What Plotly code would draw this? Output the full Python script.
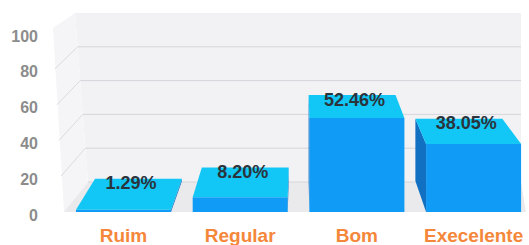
import plotly.graph_objects as go

categories = ["Ruim", "Regular", "Bom", "Execelente"]
values = [1.29, 8.20, 52.46, 38.05]
labels = ["1.29%", "8.20%", "52.46%", "38.05%"]
y_ticks = [0, 20, 40, 60, 80, 100]

# ---- layout geometry (pixels of the 529x245 canvas) ----
W, H = 529, 245
ML, MR, MT, MB = 42, 0, 3, 23
X0_PX, X_STEP = 123.5, 116.7      # pixel of category 0, pixels per category
Y0_PX, Y_SCALE = 212.0, 1.79      # pixel of value 0, pixels per unit

x_min = (ML - X0_PX) / X_STEP
x_max = (W - MR - X0_PX) / X_STEP
y_max = (Y0_PX - MT) / Y_SCALE
y_min = (Y0_PX - (H - MB)) / Y_SCALE


def px2x(px):
    return (px - X0_PX) / X_STEP


def py2y(py):
    return (Y0_PX - py) / Y_SCALE


# perspective (vanishing point) for bar depth
S = 0.085
VX = px2x(300)
VY = py2y(-153)


def back(x, y):
    return VX + (x - VX) * (1 - S), VY + (y - VY) * (1 - S)


BAR_W = 0.814
FRONT = "#0f9bf6"
TOP = "#12c7f5"
SIDE = "#1170c2"

fig = go.Figure()

# walls and floor as background shapes
def path(pts):
    return "M " + " L ".join(f"{px2x(a)},{py2y(b)}" for a, b in pts) + " Z"

shapes = []
back_wall = [(75, 13), (521, 13), (521, 182), (88, 182)]
left_wall = [(53, 28), (75, 13), (88, 182), (64, 212)]
floor = [(64, 212), (88, 182), (521, 182), (526, 212)]
shapes.append(dict(type="path", path=path(back_wall), xref="x", yref="y",
                   fillcolor="#f2f2f5", line=dict(width=0), layer="below"))
shapes.append(dict(type="path", path=path(left_wall), xref="x", yref="y",
                   fillcolor="#f5f5f8", line=dict(width=0), layer="below"))
shapes.append(dict(type="path", path=path(floor), xref="x", yref="y",
                   fillcolor="#eaeaec", line=dict(width=0), layer="below"))

# grid lines on back wall and left wall
for v in y_ticks[:-1]:
    yb = py2y(182 - 1.69 * v)
    shapes.append(dict(type="line", xref="x", yref="y",
                       x0=px2x(88 - 0.13 * v), x1=px2x(521), y0=yb, y1=yb,
                       line=dict(color="#d6d6da", width=1), layer="below"))
    if v > 0:
        shapes.append(dict(type="line", xref="x", yref="y",
                           x0=px2x(63 - 0.1 * v), y0=v,
                           x1=px2x(88 - 0.13 * v), y1=yb,
                           line=dict(color="#dcdce0", width=1), layer="below"))

# side faces and top faces
for i, v in enumerate(values):
    xl, xr = i - BAR_W / 2, i + BAR_W / 2
    if xl > VX:
        b1, b2 = back(xl, v), back(xl, 0)
        fig.add_trace(go.Scatter(x=[xl, xl, b1[0], b2[0], xl], y=[0, v, b1[1], b2[1], 0],
                                 fill="toself", fillcolor=SIDE, mode="lines",
                                 line=dict(width=0), hoverinfo="skip", showlegend=False))
    elif xr < VX:
        b1, b2 = back(xr, v), back(xr, 0)
        fig.add_trace(go.Scatter(x=[xr, xr, b1[0], b2[0], xr], y=[0, v, b1[1], b2[1], 0],
                                 fill="toself", fillcolor=SIDE, mode="lines",
                                 line=dict(width=0), hoverinfo="skip", showlegend=False))

fig.add_trace(go.Bar(x=list(range(len(categories))), y=values, width=BAR_W,
                     marker=dict(color=FRONT, line=dict(width=0)),
                     hoverinfo="skip", showlegend=False))

tx, ty = [], []
for i, v in enumerate(values):
    xl, xr = i - BAR_W / 2, i + BAR_W / 2
    bl, br = back(xl, v), back(xr, v)
    fig.add_trace(go.Scatter(x=[xl, xr, br[0], bl[0], xl], y=[v, v, br[1], bl[1], v],
                             fill="toself", fillcolor=TOP, mode="lines",
                             line=dict(width=0), hoverinfo="skip", showlegend=False))
    tx.append((xl + xr + bl[0] + br[0]) / 4)
    ty.append(bl[1] - 6 / Y_SCALE)

fig.add_trace(go.Scatter(x=tx, y=ty, text=labels, mode="text",
                         textfont=dict(family="Liberation Sans", size=18, color="#2b333b",
                                       weight="bold"),
                         textposition="middle center", hoverinfo="skip", showlegend=False))

fig.update_layout(
    width=W, height=H,
    margin=dict(l=ML, r=MR, t=MT, b=MB, autoexpand=False),
    paper_bgcolor="white", plot_bgcolor="rgba(0,0,0,0)",
    shapes=shapes,
    xaxis=dict(range=[x_min, x_max], tickvals=list(range(len(categories))),
               ticktext=categories, showgrid=False, zeroline=False, showline=False,
               ticks="", ticklabelstandoff=0, automargin=False,
               tickfont=dict(family="Liberation Sans", size=19, color="#f5873a",
                             weight="bold")),
    yaxis=dict(range=[y_min, y_max], tickvals=y_ticks, showgrid=False,
               zeroline=False, showline=False, ticks="", automargin=False,
               ticklabelstandoff=3, ticklabelshift=3,
               tickfont=dict(family="Liberation Sans", size=16, color="#8c8c8c",
                             weight="bold")),
)

fig.write_html("out.html", config={"displayModeBar": False},
               post_script="document.body.style.margin='0';")
